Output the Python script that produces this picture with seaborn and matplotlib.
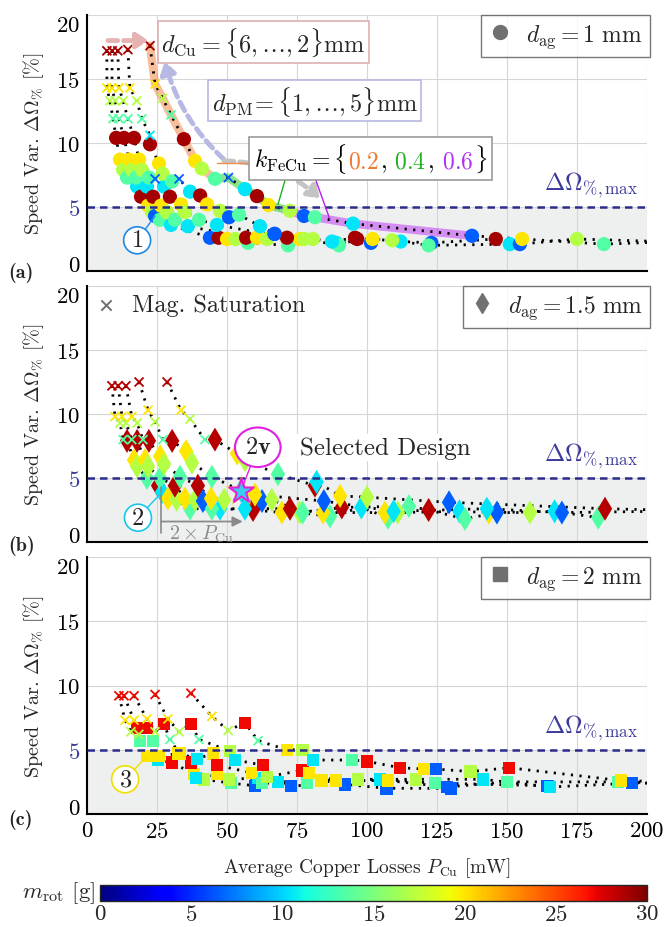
import numpy as np
import pandas as pd
import seaborn as sns
import matplotlib as mpl
import matplotlib.pyplot as plt
from matplotlib.lines import Line2D
from matplotlib.offsetbox import TextArea, HPacker, AnnotationBbox

# ------------------------------------------
# Data, one list per curve (d_Cu = 6 ... 2)
# x: average copper losses [mW], y: speed variation [%], m: rotor mass [g]
# sat: indices of points that are magnetically saturated
# ------------------------------------------
a_x = [
    [7.1, 7.1, 8.2, 9.3, 10.4, 11.8, 12.9, 14.3, 17.9, 19.3, 21.8, 23.2, 24.3, 26.0, 30.0, 43.9, 47.0, 50.0, 53.0, 57.5, 71.8],
    [9.0, 8.9, 10.0, 11.4, 13.2, 15.0, 16.0, 17.5, 21.4, 23.6, 26.4, 28.6, 31.4, 36.0, 56.8, 60.7, 64.3, 67.0, 76.0, 80.7, 89.0, 101.4],
    [11.0, 11.4, 12.9, 14.6, 16.8, 18.6, 19.6, 22.1, 24.3, 27.5, 29.6, 33.6, 35.0, 40.0, 46.4, 71.4, 77.6, 90.0, 96.5, 102.0, 112.0, 123.0, 146.0],
    [14.6, 15.3, 17.8, 19.6, 22.5, 22.5, 25.7, 27.0, 30.4, 32.9, 36.8, 40.4, 42.9, 47.5, 50.7, 54.3, 61.8, 67.0, 87.5, 95.7, 109.0, 122.0, 151.0, 154.6, 175.0, 205.0],
    [22.5, 24.3, 27.0, 30.0, 34.6, 38.6, 41.0, 45.7, 50.5, 56.4, 60.7, 64.8, 72.5, 77.5, 81.4, 95.0, 137.5, 155.4, 184.6, 210.0],
]
a_y = [
    [17.2, 14.3, 13.3, 11.9, 10.4, 8.7, 7.9, 7.3, 6.6, 5.8, 5.1, 4.6, 4.3, 4.0, 3.6, 2.6, 2.6, 2.5, 2.5, 2.2, 2.0],
    [17.2, 14.3, 13.3, 11.9, 10.4, 8.7, 7.9, 7.3, 6.6, 5.8, 5.1, 4.6, 4.0, 3.5, 2.6, 2.6, 2.5, 2.9, 2.5, 2.5, 2.2, 2.2],
    [17.2, 14.3, 13.3, 11.9, 10.4, 8.7, 7.9, 7.3, 7.2, 6.6, 5.8, 5.2, 4.6, 4.0, 3.6, 2.6, 2.5, 2.0, 2.5, 2.5, 2.3, 2.2, 2.5],
    [17.3, 14.3, 13.3, 11.9, 10.6, 9.9, 8.4, 7.6, 7.0, 7.2, 6.2, 5.9, 5.2, 4.7, 4.2, 4.4, 3.5, 2.9, 2.3, 2.6, 2.4, 2.0, 2.1, 2.1, 2.5, 2.3],
    [17.6, 14.6, 13.5, 12.2, 10.3, 8.6, 8.0, 7.2, 7.3, 6.4, 5.85, 5.15, 4.7, 4.3, 4.2, 3.7, 2.75, 2.5, 2.1, 2.3],
]
a_m = [
    [29, 20, 17, 13.5, 29, 20, 17, 13.5, 10.5, 29, 20, 17, 6.5, 13.5, 10.5, 6.5, 29, 20, 17, 13.5, 13.5],
    [29, 20, 17, 13.5, 29, 20, 17, 13.5, 10.5, 29, 20, 17, 13.5, 10.5, 29, 20, 17, 6.5, 20, 17, 10.5, 6.5],
    [29, 20, 17, 13.5, 29, 20, 17, 13.5, 6.5, 10.5, 29, 20, 17, 13.5, 10.5, 29, 17, 13.5, 29, 20, 10.5, 6.5, 29],
    [29, 20, 17, 13.5, 10.5, 29, 20, 17, 13.5, 6.5, 10.5, 29, 20, 17, 6.5, 13.5, 10.5, 6.5, 10.5, 29, 17, 13.5, 10.5, 6.5, 17, 13.5],
    [29, 20, 17, 13.5, 29, 20, 17, 13.5, 6.5, 10.5, 29, 20, 17, 6.5, 13.5, 10.5, 6.5, 20, 13.5, 13.5],
]
a_sat = [[0, 1, 2, 3], [0, 1, 2, 3], [0, 1, 2, 3, 8], [0, 1, 2, 3, 4, 9], [0, 1, 2, 3, 8]]

b_x = [
    [8.9, 10.0, 11.8, 12.9, 14.3, 16.8, 17.9, 21.4, 25.4, 26.8, 28.9, 32.0, 36.8, 47.5, 59.3, 69.6, 76.0, 86.8, 98.0, 107.5],
    [11.1, 12.5, 13.9, 16.0, 17.9, 20.7, 21.8, 26.1, 31.4, 35.0, 38.6, 41.4, 44.6, 56.4, 72.5, 84.3, 106.4, 111.0, 133.0, 143.5, 158.2],
    [13.9, 16.0, 17.9, 20.0, 22.1, 26.1, 27.5, 33.2, 39.6, 44.3, 49.0, 62.5, 66.0, 77.0, 91.0, 115.0, 122.0, 135.0, 146.4, 167.0, 182.6],
    [18.6, 21.8, 24.3, 27.1, 30.4, 35.4, 37.5, 44.6, 55.0, 60.0, 84.6, 109.5, 142.8, 169.6, 205.0],
    [28.6, 33.6, 36.8, 42.1, 45.7, 53.6, 56.4, 68.2, 81.4, 82.0, 90.4, 100.0, 129.3, 185.0, 205.0],
]
b_y = [
    [12.2, 9.8, 9.3, 8.0, 7.9, 6.4, 5.9, 5.0, 4.4, 3.9, 3.4, 3.3, 2.6, 2.6, 2.5, 2.3, 2.3, 2.0, 2.7, 1.9],
    [12.2, 9.8, 9.3, 8.0, 7.9, 6.4, 5.9, 5.0, 4.4, 3.4, 3.3, 3.2, 2.6, 2.6, 2.6, 2.3, 2.3, 2.3, 2.4, 2.3, 2.3],
    [12.2, 9.8, 9.3, 8.0, 7.9, 6.7, 6.1, 5.1, 4.4, 3.4, 3.3, 3.2, 3.3, 2.3, 2.7, 2.8, 2.5, 1.8, 2.3, 2.4, 1.9],
    [12.5, 10.3, 9.4, 8.0, 7.9, 7.1, 6.2, 5.1, 4.0, 3.7, 3.2, 2.4, 2.6, 2.3, 2.4],
    [12.5, 10.3, 9.6, 8.0, 8.0, 6.9, 6.4, 5.3, 4.4, 4.7, 3.6, 3.5, 3.1, 2.6, 2.5],
]
b_m = [
    [28.5, 20, 17, 13.5, 28.5, 20, 17, 13.5, 28.5, 10.5, 20, 17, 13.5, 10.5, 28.5, 20, 17, 13.5, 10.5, 13.5],
    [28.5, 20, 17, 13.5, 28.5, 20, 17, 13.5, 28.5, 20, 17, 6.5, 13.5, 10.5, 28.5, 20, 20, 17, 10.5, 20, 17],
    [28.5, 20, 17, 13.5, 28.5, 20, 17, 13.5, 28.5, 20, 17, 6.5, 17, 13.5, 28.5, 13.5, 28.5, 13.5, 6.5, 10.5, 13.5],
    [28.5, 20, 17, 13.5, 28.5, 20, 17, 13.5, 10.5, 20, 6.5, 10.5, 10.5, 6.5, 6.5],
    [28.5, 20, 17, 13.5, 28.5, 20, 17, 13.5, 28.5, 10.5, 20, 17, 6.5, 28.5, 28.5],
]
b_sat = [[0, 1, 2, 3], [0, 1, 2, 3], [0, 1, 2, 3], [0, 1, 2, 3], [0, 1, 2, 3]]

c_x = [
    [11.4, 13.6, 15.7, 17.9, 18.9, 21.4, 25.4, 30.4, 38.2, 41.8, 51.4, 60.0, 72.9, 92.1, 107.0, 130.0],
    [13.2, 16.8, 18.5, 21.4, 23.6, 25.5, 32.5, 37.1, 39.0, 46.4, 50.7, 61.0, 68.2, 83.8, 104.6, 124.3, 164.3],
    [16.8, 21.4, 24.3, 27.5, 29.6, 33.0, 39.3, 45.0, 46.4, 58.9, 62.5, 78.6, 96.8, 117.5, 141.4, 165.4, 194.6, 210.0],
    [24.3, 28.9, 32.9, 37.1, 40.0, 51.0, 52.9, 62.9, 64.3, 77.0, 79.3, 88.9, 107.5, 128.6, 150.0, 189.6, 210.0],
    [37.1, 44.6, 50.4, 56.4, 61.1, 71.4, 77.0, 80.7, 94.6, 100.0, 111.8, 120.4, 124.6, 137.0, 150.8, 190.7, 210.0],
]
c_y = [
    [9.2, 7.3, 6.4, 6.7, 5.7, 4.5, 4.2, 4.0, 3.1, 2.7, 2.4, 2.2, 2.2, 2.3, 2.0, 2.0],
    [9.2, 7.3, 6.2, 6.7, 5.7, 4.5, 4.7, 4.0, 2.8, 3.1, 2.7, 2.8, 2.5, 2.6, 2.7, 2.4, 2.2],
    [9.2, 7.4, 6.4, 7.0, 5.8, 4.7, 4.3, 4.7, 3.8, 3.2, 2.4, 2.4, 2.7, 2.7, 2.7, 2.1, 2.4, 2.4],
    [9.3, 7.4, 6.4, 7.0, 5.8, 4.9, 4.2, 3.8, 2.9, 3.4, 3.2, 2.6, 2.6, 2.1, 2.5, 2.5, 2.4],
    [9.4, 7.6, 6.5, 7.1, 5.7, 5.0, 5.0, 4.2, 4.2, 4.1, 3.6, 3.5, 3.5, 3.3, 3.6, 2.6, 2.5],
]
c_m = [
    [27, 20, 17, 27, 13.5, 20, 10.5, 27, 20, 17, 13.5, 6.5, 6.5, 6.5, 6.5, 6.5],
    [27, 20, 17, 27, 13.5, 20, 20, 27, 10.5, 20, 17, 10.5, 10.5, 20, 10.5, 13.5, 6.5],
    [27, 20, 17, 27, 13.5, 20, 10.5, 20, 27, 20, 13.5, 13.5, 17, 17, 10.5, 10.5, 6.5, 6.5],
    [27, 20, 17, 27, 13.5, 17, 10.5, 27, 17, 27, 20, 20, 20, 6.5, 13.5, 13.5, 13.5],
    [27, 20, 17, 27, 13.5, 20, 17, 10.5, 13.5, 27, 27, 20, 6.5, 17, 27, 20, 20],
]
c_sat = [[0, 1, 2], [0, 1, 2], [0, 1, 2, 4], [0, 1, 2, 4], [0, 1, 2, 4]]

air_gaps = ['1', '1.5', '2']
panel_markers = ['o', 'd', 's']
marker_sizes = [105, 150, 80]
dOmega_max = 5
sel_x, sel_y = 55.0, 4.0          # selected design "2v"
hl_split = [0, 7, 12, 16]          # k_FeCu = 0.2 / 0.4 / 0.6 segments on the d_Cu=2 curve
hl_colors = ['#f4884a', '#2ecc2e', '#c03cf0']

# ------------------------------------------
# Style
# ------------------------------------------
sns.set_style('white')
plt.rcParams['font.family'] = ['cmr10', 'DejaVu Serif']
plt.rcParams['mathtext.fontset'] = 'cm'
plt.rcParams['axes.unicode_minus'] = False
plt.rcParams['axes.formatter.use_mathtext'] = True

NAVY = '#2b2b8c'
TICK_FS = 16.5     # tick labels
LAB_FS = 13.5      # axis labels
ANN_FS = 17.5      # annotations / boxes
JET = mpl.colormaps['jet']


def make_frame(xs, ys, ms, sats):
    parts = []
    for i in range(len(xs)):
        d = pd.DataFrame({'x': xs[i], 'y': ys[i], 'm': ms[i]})
        d['curve'] = i
        d['sat'] = d.index.isin(sats[i])
        parts.append(d)
    return pd.concat(parts, ignore_index=True)


def draw_panel(ax, df, marker, size, gap):
    ax.axhspan(0, dOmega_max, color='#eef0f0', zorder=0, lw=0)
    sns.lineplot(data=df, x='x', y='y', units='curve', estimator=None, sort=False,
                 color='k', lw=2.0, ls=(0, (0.8, 2.3)), ax=ax, zorder=3, legend=False)
    pts = df[~df['sat']]
    sns.scatterplot(data=pts, x='x', y='y', hue='m', palette=JET, hue_norm=(0, 30),
                    marker=marker, s=size, linewidth=0, ax=ax, legend=False, zorder=4)
    sat = df[df['sat']]
    sns.scatterplot(data=sat, x='x', y='y', hue='m', palette=JET, hue_norm=(0, 30),
                    marker='x', s=42, linewidth=1.3, ax=ax, legend=False, zorder=4)
    ax.axhline(dOmega_max, color=NAVY, lw=1.8, ls=(0, (3, 2)), zorder=5)
    ax.text(197, 5.6, r'$\Delta\Omega_{\%,\max}$', color='#3a3a9c', fontsize=ANN_FS,
            ha='right', va='bottom', zorder=6)
    ax.set_xlim(0, 200)
    ax.set_ylim(0, 20)
    ax.set_xticks(range(0, 201, 25))
    ax.set_yticks(range(0, 21, 5))
    ax.grid(True, color='#d6d6d6', lw=0.8)
    ax.set_axisbelow(True)
    for s in ['top', 'right']:
        ax.spines[s].set_visible(False)
    for s in ['left', 'bottom']:
        ax.spines[s].set_linewidth(1.5)
        ax.spines[s].set_color('k')
    ax.tick_params(direction='in', length=4, width=1.2, labelsize=TICK_FS, colors='k', pad=5)
    ylabs = ax.get_yticklabels()
    ylabs[0].set_va('baseline')
    ylabs[1].set_color('#3a3a9c')
    ylabs[-1].set_va('top')
    ax.set_xlabel('')
    ax.set_ylabel(r'Speed Var. $\Delta\Omega_{\%}$ [%]', fontsize=LAB_FS + 1, labelpad=7)
    ax.legend(handles=[Line2D([], [], marker=marker, color='#707070', ls='', ms=10)],
              labels=[r'$d_\mathrm{ag} = ' + gap + r'\ \mathrm{mm}$'], loc='upper right',
              frameon=True, fancybox=False, edgecolor='#555555', fontsize=ANN_FS - 0.5,
              handletextpad=0.6, borderaxespad=0.0, borderpad=0.3, handlelength=1.0,
              bbox_to_anchor=(1.005, 1.0))


fig = plt.figure(figsize=(6.64, 9.28), dpi=100)
W, H = 664, 928
boxes = [(16, 272), (287, 543), (558, 815)]
axes = [fig.add_axes([87 / W, 1 - b / H, 560 / W, (b - t) / H]) for t, b in boxes]

frames = [make_frame(a_x, a_y, a_m, a_sat), make_frame(b_x, b_y, b_m, b_sat),
          make_frame(c_x, c_y, c_m, c_sat)]
for ax, df, mk, sz, gap in zip(axes, frames, panel_markers, marker_sizes, air_gaps):
    draw_panel(ax, df, mk, sz, gap)

axA, axB, axC = axes

# ------------------------------------------
# Panel (a) annotations
# ------------------------------------------
hx, hy = a_x[4], a_y[4]
for k in range(3):
    i0, i1 = hl_split[k], hl_split[k + 1]
    axA.plot(hx[i0:i1 + 1], hy[i0:i1 + 1], color=hl_colors[k], lw=6, alpha=0.55,
             zorder=2, solid_capstyle='round')

axA.annotate('', xy=(23.0, 18.0), xytext=(6.5, 18.0),
             arrowprops=dict(arrowstyle='-|>,head_length=0.7,head_width=0.45', lw=3.5,
                             ls=(0, (2, 1.2)), color='#e6b3b3'), zorder=6)
axA.annotate('', xy=(27.5, 16.6), xytext=(49.5, 8.6),
             arrowprops=dict(arrowstyle='-|>,head_length=0.7,head_width=0.45', lw=3.5,
                             ls=(0, (2, 1.2)), color='#b8b8e4',
                             connectionstyle='arc3,rad=-0.15'), zorder=2)
axA.annotate('', xy=(84.0, 5.5), xytext=(48.0, 8.6),
             arrowprops=dict(arrowstyle='-|>,head_length=0.7,head_width=0.45', lw=3.5,
                             ls=(0, (2, 1.2)), color='#c4c4c4',
                             connectionstyle='arc3,rad=-0.2'), zorder=2)

axA.text(26.5, 17.9, r'$d_\mathrm{Cu} = \{6, \ldots, 2\}\mathrm{mm}$', fontsize=ANN_FS,
         ha='left', va='center', zorder=7,
         bbox=dict(boxstyle='square,pad=0.15', fc='white', ec='#dcb0b0', lw=1.2))
axA.text(44.5, 13.3, r'$d_\mathrm{PM}\!= \{1, \ldots, 5\}\mathrm{mm}$', fontsize=ANN_FS,
         ha='left', va='center', zorder=7,
         bbox=dict(boxstyle='square,pad=0.15', fc='white', ec='#b8b8e0', lw=1.2))

# connector lines from the k_FeCu box to the highlighted segments
axA.plot([46.4, 60.0], [8.4, 8.4], color=hl_colors[0], lw=1.0, zorder=6)
axA.plot([71.8, 68.2], [7.9, 5.2], color='#20b020', lw=1.0, zorder=6)
axA.plot([80.4, 86.8], [7.9, 4.0], color='#b020f0', lw=1.0, zorder=6)

parts = [(r'$k_\mathrm{FeCu} = \{$', 'k'), (r'$0.2$', '#f07830'), (r'$,$', 'k'),
         (r'$\hspace{0.3}0.4$', '#20b020'), (r'$,$', 'k'), (r'$\hspace{0.3}0.6$', '#b030f0'),
         (r'$\}$', 'k')]
pack = HPacker(children=[TextArea(s, textprops=dict(color=c, fontsize=ANN_FS - 0.5)) for s, c in parts],
               align='baseline', pad=0, sep=1.0)
ab = AnnotationBbox(pack, (59.5, 8.8), xycoords='data', box_alignment=(0, 0.5),
                    frameon=True, pad=0.2, zorder=7,
                    bboxprops=dict(boxstyle='square', fc='white', ec='#9a9a9a', lw=1.2))
axA.add_artist(ab)

axA.annotate(r'$\mathbf{1}$', xy=(24.3, 4.3), xytext=(17.9, 2.4), ha='center', va='center',
             fontsize=ANN_FS, zorder=8,
             bbox=dict(boxstyle='circle,pad=0.1', fc='white', ec='#1e88e5', lw=1.2),
             arrowprops=dict(arrowstyle='-', color='#1e88e5', lw=1.0, shrinkA=0, shrinkB=0))

# ------------------------------------------
# Panel (b) annotations
# ------------------------------------------
axB.scatter([sel_x], [sel_y], marker='*', s=620, color='#ffb000', alpha=0.5, lw=0, zorder=6)
axB.scatter([sel_x], [sel_y], marker='*', s=340, facecolor='#3ccaf0', edgecolor='#e020e0',
            lw=1.4, zorder=7)
axB.annotate(r'$\mathbf{2v}$', xy=(sel_x, sel_y), xytext=(61.0, 7.4), ha='center', va='center',
             fontsize=ANN_FS, zorder=8,
             bbox=dict(boxstyle='ellipse,pad=0.12', fc='white', ec='#e020e0', lw=1.5),
             arrowprops=dict(arrowstyle='-', color='#e020e0', lw=1.0, shrinkA=0, shrinkB=4))
axB.text(76.0, 7.4, 'Selected Design', fontsize=ANN_FS + 0.5, ha='left', va='center', zorder=7,
         bbox=dict(boxstyle='square,pad=0.1', fc='white', ec='none'))
axB.annotate(r'$\mathbf{2}$', xy=(26.8, 3.9), xytext=(18.2, 1.9), ha='center', va='center',
             fontsize=ANN_FS, zorder=8,
             bbox=dict(boxstyle='circle,pad=0.1', fc='white', ec='#18c8e8', lw=1.2),
             arrowprops=dict(arrowstyle='-', color='#18c8e8', lw=1.0, shrinkA=0, shrinkB=0))
axB.plot([26.4, 26.4], [0.7, 4.3], color='#8a8a8a', lw=1.2, zorder=6)
axB.annotate('', xy=(55.6, 1.6), xytext=(26.4, 1.6),
             arrowprops=dict(arrowstyle='-|>,head_length=0.6,head_width=0.3', lw=1.3,
                             color='#8a8a8a', shrinkA=0, shrinkB=0), zorder=6)
axB.text(41.0, 0.7, r'$2 \times P_\mathrm{Cu}$', color='#8a8a8a', fontsize=ANN_FS - 3,
         ha='center', va='center', zorder=6)
axB.scatter([0.034], [0.926], marker='x', s=55, color='#707070', lw=1.4,
            transform=axB.transAxes, zorder=7)
axB.text(0.08, 0.926, 'Mag. Saturation', transform=axB.transAxes, fontsize=ANN_FS,
         ha='left', va='center')

# ------------------------------------------
# Panel (c) annotations
# ------------------------------------------
axC.annotate(r'$\mathbf{3}$', xy=(21.4, 4.5), xytext=(13.6, 2.7), ha='center', va='center',
             fontsize=ANN_FS, zorder=8,
             bbox=dict(boxstyle='circle,pad=0.1', fc='white', ec='#f0e000', lw=1.2),
             arrowprops=dict(arrowstyle='-', color='#f0e000', lw=1.0, shrinkA=0, shrinkB=0))

axA.tick_params(labelbottom=False)
axB.tick_params(labelbottom=False)
axC.set_xlabel(r'Average Copper Losses $P_\mathrm{Cu}$ [mW]', fontsize=LAB_FS + 0.5, labelpad=10)

for lab, py in zip(['(a)', '(b)', '(c)'], [273, 546, 820]):
    fig.text(8 / W, 1 - py / H, lab, fontfamily='cmb10', fontsize=LAB_FS + 1, ha='left', va='center')

# colorbar for the rotor mass
cax = fig.add_axes([100 / W, 1 - 902 / H, 547 / W, 16 / H])
cb = fig.colorbar(mpl.cm.ScalarMappable(norm=mpl.colors.Normalize(0, 30), cmap=JET),
                  cax=cax, orientation='horizontal', ticks=range(0, 31, 5))
cb.outline.set_linewidth(1.0)
cax.tick_params(labelsize=TICK_FS, length=3, direction='in', pad=2)
fig.text(95 / W, 1 - 893 / H, r'$m_\mathrm{rot}$ [g]', fontsize=ANN_FS - 1, ha='right', va='center')

fig.savefig('out.png', dpi=100)
